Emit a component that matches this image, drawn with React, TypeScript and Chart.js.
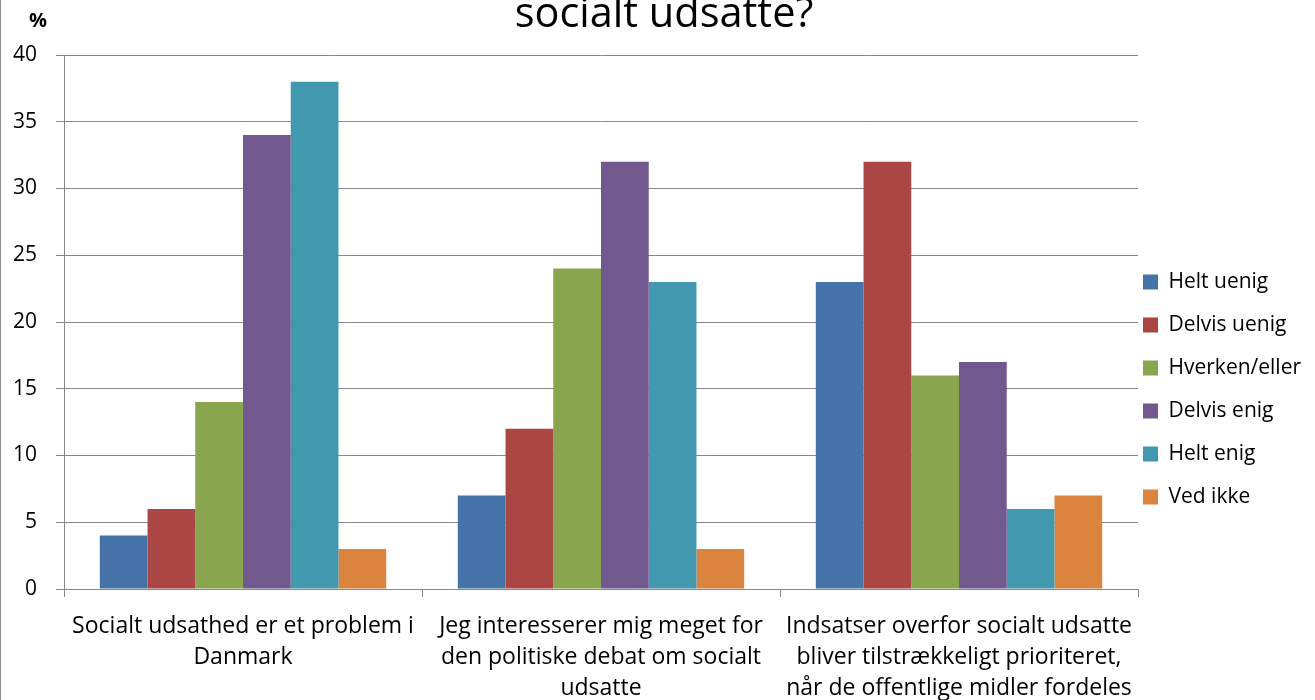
import React, { useEffect, useRef } from "react";
import { Chart, registerables } from "chart.js";

Chart.register(...registerables);

const titleText = "socialt udsatte?";
const yUnit = "%";

const categories: string[][] = [
  ["Socialt udsathed er et problem i", "Danmark"],
  ["Jeg interesserer mig meget for", "den politiske debat om socialt", "udsatte"],
  ["Indsatser overfor socialt udsatte", "bliver tilstrækkeligt prioriteret,", "når de offentlige midler fordeles"],
];

const seriesNames = ["Helt uenig", "Delvis uenig", "Hverken/eller", "Delvis enig", "Helt enig", "Ved ikke"];
const seriesColors = ["#4572A7", "#AA4643", "#89A54E", "#71588F", "#4198AF", "#DB843D"];

const heltUenig = [4, 7, 23];
const delvisUenig = [6, 12, 32];
const hverkenEller = [14, 24, 16];
const delvisEnig = [34, 32, 17];
const heltEnig = [38, 23, 6];
const vedIkke = [3, 3, 7];

const seriesValues = [heltUenig, delvisUenig, hverkenEller, delvisEnig, heltEnig, vedIkke];

const yMin = 0;
const yMax = 40;
const yStep = 5;

const FONT = "'Open Sans', 'Noto Sans', sans-serif";
const GRID = "#878787";

export default function App() {
  const ref = useRef<HTMLCanvasElement>(null);

  useEffect(() => {
    if (!ref.current) return;
    const unitPlugin = {
      id: "unitLabel",
      afterDraw(chart: any) {
        const { ctx, chartArea } = chart;
        ctx.save();
        ctx.font = `bold 20px ${FONT}`;
        ctx.fillStyle = "#000";
        ctx.textAlign = "center";
        ctx.textBaseline = "middle";
        ctx.fillText(yUnit, chartArea.left - 26, chartArea.top - 34);
        ctx.restore();
      },
    };
    const legendShift = {
      id: "legendShift",
      afterLayout(chart: any) {
        const lg = chart.legend;
        if (!lg) return;
        const dx = -17;
        const dy = 47.5;
        lg.left += dx;
        lg.width = lg.right - lg.left;
        lg.top += dy;
        lg.bottom += dy;
      },
    };
    const chart = new Chart(ref.current, {
      type: "bar",
      data: {
        labels: categories as any,
        datasets: seriesNames.map((name, i) => ({
          label: name,
          data: seriesValues[i],
          backgroundColor: seriesColors[i],
          borderWidth: 0,
          categoryPercentage: 0.8,
          barPercentage: 1.0,
        })),
      },
      options: {
        responsive: false,
        animation: false,
        layout: { padding: { left: 13, right: 0, top: 0, bottom: 0 } },
        plugins: {
          title: {
            display: true,
            text: titleText,
            color: "#000",
            font: { family: FONT, size: 41.5, weight: "normal" as any, lineHeight: 1.2 },
            padding: { top: 10.6, bottom: 14.6 },
          },
          legend: {
            display: true,
            position: "right",
            maxWidth: 177,
            labels: {
              color: "#000",
              font: { family: FONT, size: 21 },
              boxWidth: 15,
              boxHeight: 15,
              padding: 22,
            },
          },
          tooltip: { enabled: false },
        },
        scales: {
          x: {
            afterFit(scale: any) {
              scale.paddingLeft = 0;
              scale.paddingRight = 0;
              scale.height = 115;
            },
            grid: {
              display: true,
              drawOnChartArea: false,
              drawTicks: true,
              tickLength: 8,
              color: GRID,
              offset: true,
            },
            border: { color: GRID, width: 1 },
            ticks: {
              color: "#000",
              font: { family: FONT, size: 23, lineHeight: 31 / 23 },
              autoSkip: false,
              maxRotation: 0,
              minRotation: 0,
              padding: 14,
            },
          },
          y: {
            min: yMin,
            max: yMax,
            afterFit(scale: any) {
              scale.width = 51;
            },
            grid: { color: GRID, tickLength: 8, drawTicks: true },
            border: { color: GRID, width: 1 },
            ticks: {
              stepSize: yStep,
              color: "#000",
              font: { family: FONT, size: 21 },
              padding: 19,
            },
          },
        },
      },
      plugins: [unitPlugin, legendShift],
    });
    return () => chart.destroy();
  }, []);

  return (
    <div
      style={{
        position: "absolute",
        left: 0,
        top: 0,
        width: 1315,
        height: 700,
        overflow: "hidden",
        background: "#fff",
      }}
    >
      <canvas
        ref={ref}
        width={1315}
        height={724}
        style={{ position: "absolute", left: 0, top: -20, width: 1315, height: 724 }}
      />
      <div
        style={{
          position: "absolute",
          left: 0,
          top: 0,
          width: 1,
          height: 700,
          background: "#8c8c8c",
        }}
      />
    </div>
  );
}
